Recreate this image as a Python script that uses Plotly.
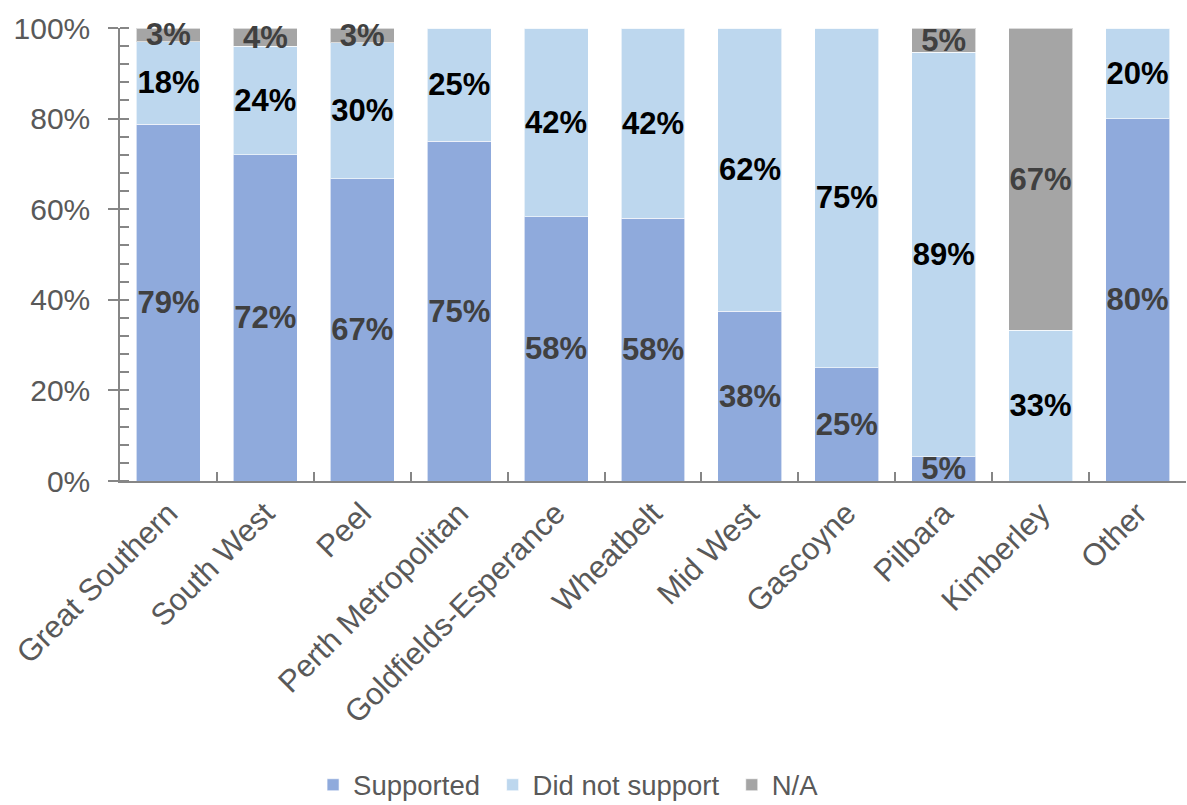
import plotly.graph_objects as go

categories = ["Great Southern", "South West", "Peel", "Perth Metropolitan",
              "Goldfields-Esperance", "Wheatbelt", "Mid West", "Gascoyne",
              "Pilbara", "Kimberley", "Other"]
supported = [78.8, 72.0, 66.7, 75.0, 58.3, 58.0, 37.5, 25.0, 5.3, 0.0, 80.0]
did_not_support = [18.2, 24.0, 30.0, 25.0, 41.7, 42.0, 62.5, 75.0, 89.4, 33.3, 20.0]
not_applicable = [3.0, 4.0, 3.3, 0.0, 0.0, 0.0, 0.0, 0.0, 5.3, 66.7, 0.0]

series = [
    ("Supported\u00a0", supported, "#8FAADC", "#404040"),
    ("Did not support\u00a0", did_not_support, "#BDD7EE", "#000000"),
    ("N/A", not_applicable, "#A5A5A5", "#404040"),
]

FONT = "Liberation Sans, Arial, sans-serif"

fig = go.Figure()
for name, vals, color, tcolor in series:
    fig.add_trace(go.Bar(
        name=name, x=categories, y=vals,
        marker=dict(color=color, line=dict(color="rgba(255,255,255,0.6)", width=1)),
        text=[f"{round(v)}%" if v > 0 else "" for v in vals],
        textposition="inside", insidetextanchor="middle", textangle=0,
        insidetextfont=dict(family=FONT, size=31, color=tcolor, weight="bold"),
        cliponaxis=False,
    ))

fig.update_layout(
    barmode="stack", bargap=0.34,
    width=1187, height=805,
    margin=dict(l=120, r=1, t=28, b=324),
    paper_bgcolor="white", plot_bgcolor="white",
    font=dict(family=FONT, size=30, color="#595959"),
    uniformtext=dict(minsize=31, mode="show"),
    showlegend=True,
    legend=dict(orientation="h", x=0.479, xref="container", xanchor="center",
                y=0.025, yref="container", yanchor="middle",
                font=dict(size=27.5, color="#595959"),
                itemwidth=30, traceorder="normal"),
    xaxis=dict(showline=True, linecolor="#868686", linewidth=1.5,
               ticks="inside", tickson="boundaries", ticklen=9, tickcolor="#868686",
               tickwidth=1.5, tickangle=-45, tickfont=dict(size=31, color="#595959"),
               showgrid=False),
    yaxis=dict(range=[0, 100], dtick=20, ticksuffix="%", showline=True,
               linecolor="#868686", linewidth=1.5, ticks="outside", ticklen=10,
               tickcolor="#868686", tickwidth=1.5, showgrid=False, zeroline=False,
               tickfont=dict(size=30, color="#595959"), ticklabelstandoff=12,
               minor=dict(ticks="inside", ticklen=9, dtick=4, tickcolor="#868686",
                          tickwidth=1.5, showgrid=False)),
    yaxis2=dict(range=[0, 100], overlaying="y", side="left", dtick=20,
                ticks="inside", ticklen=9, tickcolor="#868686", tickwidth=1.5,
                showticklabels=False, showline=False, showgrid=False, zeroline=False),
)

fig.write_html("out.html")
